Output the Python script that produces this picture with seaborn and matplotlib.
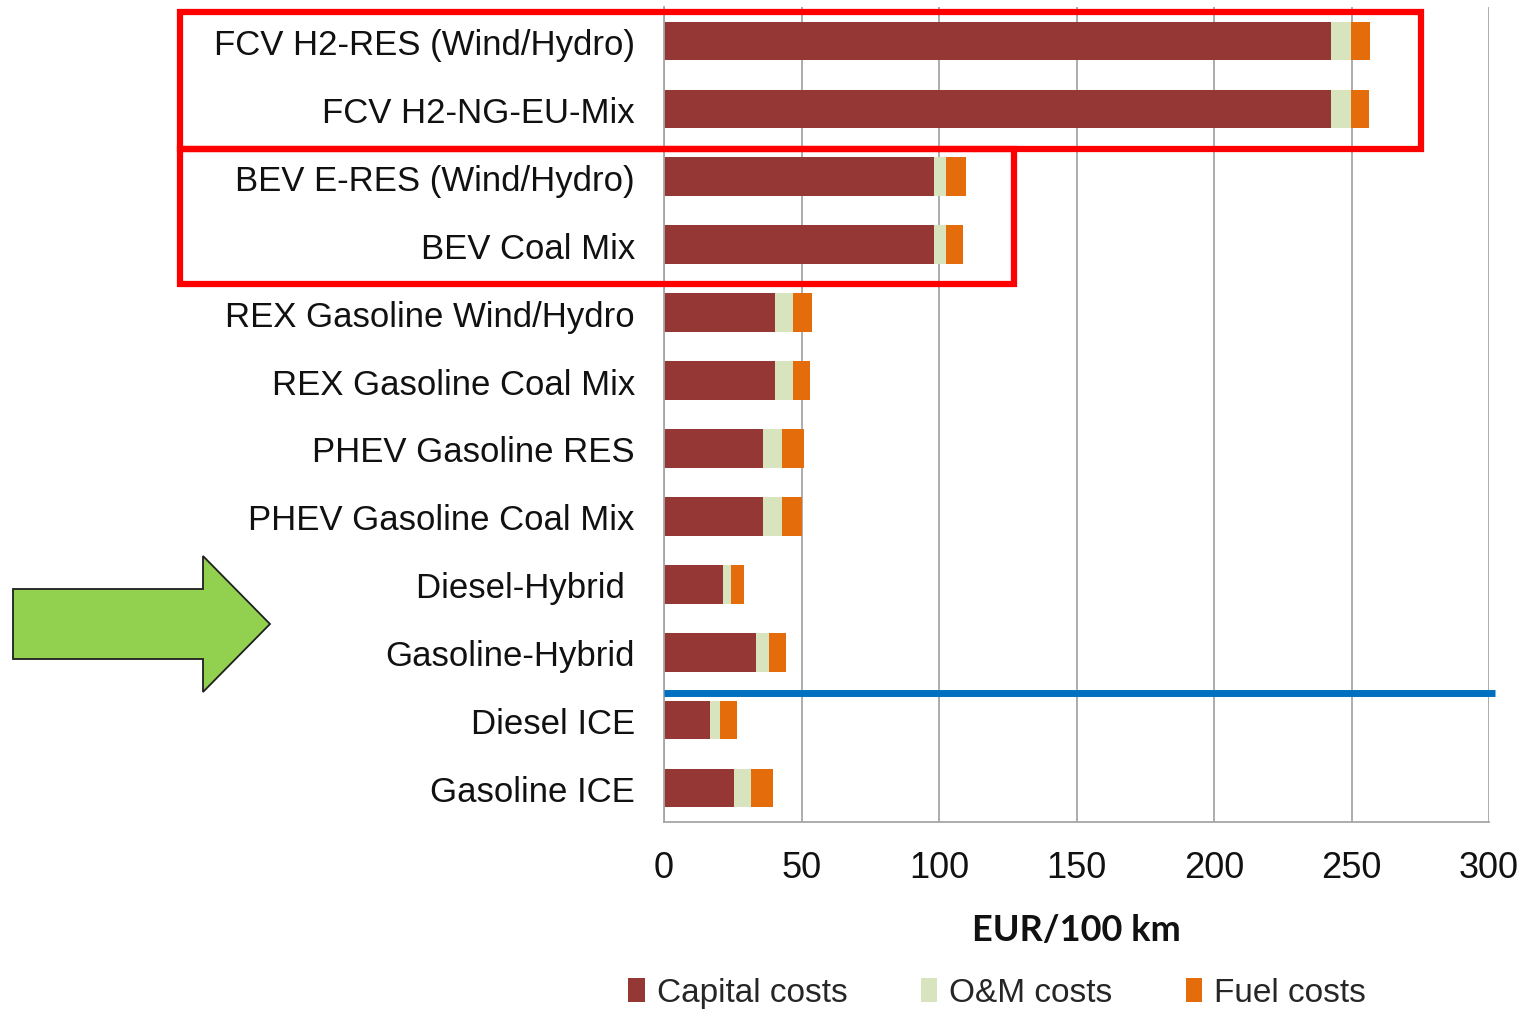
import matplotlib
matplotlib.use("Agg")
import matplotlib.pyplot as plt
from matplotlib.patches import Rectangle, Polygon, Patch
import seaborn as sns
import pandas as pd
import numpy as np

# Cost of ownership per 100 km, by powertrain / energy pathway
vehicles = [
    "FCV H2-RES (Wind/Hydro)",
    "FCV H2-NG-EU-Mix",
    "BEV E-RES (Wind/Hydro)",
    "BEV Coal Mix",
    "REX Gasoline Wind/Hydro",
    "REX Gasoline Coal Mix",
    "PHEV Gasoline RES",
    "PHEV Gasoline Coal Mix",
    "Diesel-Hybrid ",
    "Gasoline-Hybrid",
    "Diesel ICE",
    "Gasoline ICE",
]
capital_costs = [242.5, 242.5, 98.0, 98.0, 40.2, 40.2, 36.1, 36.1, 21.6, 33.5, 16.7, 25.4]
om_costs = [7.3, 7.3, 4.7, 4.7, 6.6, 6.6, 6.8, 6.8, 2.9, 4.6, 3.5, 6.2]
fuel_costs = [7.0, 6.5, 7.1, 6.2, 7.1, 6.2, 8.1, 7.2, 4.5, 6.2, 6.2, 8.1]
x_ticks = [0, 50, 100, 150, 200, 250, 300]
legend_labels = ["Capital costs", "O&M costs", "Fuel costs"]

C_CAP = "#953735"
C_OM = "#D7E4BD"
C_FUEL = "#E46C0A"

df = pd.DataFrame({"vehicle": vehicles,
                   "capital": capital_costs,
                   "om": om_costs,
                   "fuel": fuel_costs})
df["cap_om"] = df["capital"] + df["om"]
df["total"] = df["cap_om"] + df["fuel"]

sns.set_theme(style="white")
plt.rcParams["font.family"] = ["Liberation Sans", "DejaVu Sans"]

W, H = 1521, 1012
fig = plt.figure(figsize=(W / 100, H / 100), dpi=100)
ax = fig.add_axes([664 / W, 1 - 823 / H, (1489 - 664) / W, (823 - 8) / H])

# stacked bars: draw cumulative totals back to front
for col, c in [("total", C_FUEL), ("cap_om", C_OM), ("capital", C_CAP)]:
    sns.barplot(data=df, x=col, y="vehicle", order=vehicles, orient="h",
                color=c, saturation=1, width=0.57, errorbar=None,
                linewidth=0, ax=ax)

ax.set_xlim(0, 300)
ax.set_ylim(11.5, -0.5)
ax.set_xticks(x_ticks)
ax.set_xticklabels([str(t) for t in x_ticks], fontsize=26, color="#111111")
ax.tick_params(axis="x", length=0, pad=20)
ax.tick_params(axis="y", length=0, pad=21, labelsize=25, labelcolor="#111111")
ax.set_ylabel("")
ax.set_xlabel("EUR/100 km", fontsize=26, fontweight="bold",
              family=["Lato", "Liberation Sans"], labelpad=20, color="#111111")

ax.xaxis.grid(True, color="#A6A6A6", linewidth=1.3)
ax.yaxis.grid(False)
ax.set_axisbelow(True)
for side in ["top", "right"]:
    ax.spines[side].set_visible(False)
for side in ["left", "bottom"]:
    ax.spines[side].set_color("#A6A6A6")
    ax.spines[side].set_linewidth(1.3)

# legend
handles = [Patch(facecolor=c, edgecolor="none") for c in (C_CAP, C_OM, C_FUEL)]
fig.legend(handles, legend_labels, loc="center", bbox_to_anchor=(997 / W, 1 - 994 / H),
           ncol=3, frameon=False, fontsize=24, handlelength=0.5, handleheight=0.75,
           handletextpad=0.35, columnspacing=2.2, borderaxespad=0)

# separator between hybrids and conventional ICE
ax.plot([0, 302.3], [9.6, 9.6], color="#0070C0", linewidth=5,
        solid_capstyle="butt", clip_on=False, zorder=5)


def px(x, y):
    return (x / W, 1 - y / H)


# highlight boxes
for (x0, y0, x1, y1) in [(180, 13, 1421, 150), (180, 150, 1014, 285)]:
    fig.add_artist(Rectangle(px(x0, y1), (x1 - x0) / W, (y1 - y0) / H,
                             transform=fig.transFigure, fill=False,
                             edgecolor="#FF0000", linewidth=4.5, zorder=10))

# arrow pointing at the hybrid rows
arrow_pts = [px(13, 590), px(203, 590), px(203, 557), px(270, 625),
             px(203, 693), px(203, 660), px(13, 660)]
fig.add_artist(Polygon(arrow_pts, closed=True, transform=fig.transFigure,
                       facecolor="#92D050", edgecolor="#1F1F1F", linewidth=1.3,
                       zorder=10))

fig.savefig("out.png", dpi=100)
